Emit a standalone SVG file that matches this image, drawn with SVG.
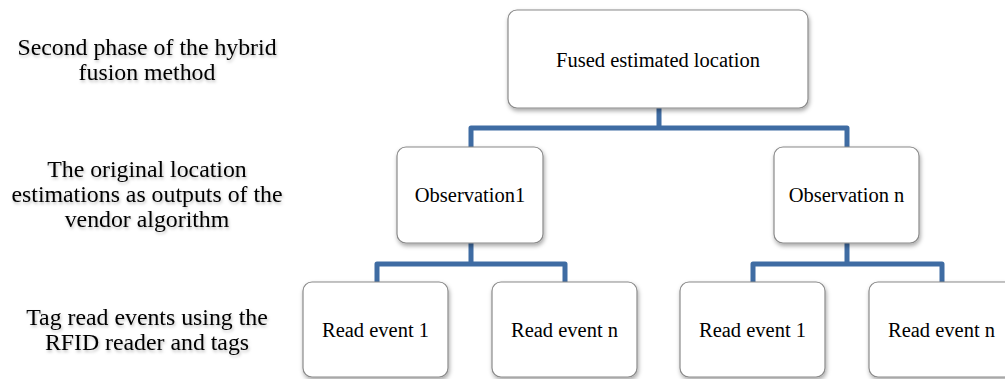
<svg xmlns="http://www.w3.org/2000/svg" width="1005" height="379" viewBox="0 0 1005 379">
  <defs>
    <filter id="shadow" x="-10%" y="-10%" width="130%" height="140%">
      <feDropShadow dx="1" dy="2.5" stdDeviation="2" flood-color="#000" flood-opacity="0.35"/>
    </filter>
    <filter id="tshadow" x="-5%" y="-20%" width="110%" height="160%">
      <feDropShadow dx="1" dy="2" stdDeviation="1.5" flood-color="#000" flood-opacity="0.25"/>
    </filter>
  </defs>
  <style>
    .box { fill: #ffffff; stroke: #8a8a8a; stroke-width: 1.2; filter: url(#shadow); }
    .btxt { font-family: "Liberation Serif", "Times New Roman", serif; font-size: 20.5px; fill: #000; text-anchor: middle; }
    .ltxt { font-family: "Liberation Serif", "Times New Roman", serif; font-size: 23.8px; fill: #000; text-anchor: middle; filter: url(#tshadow); }
    .conn { fill: none; stroke: #3f6ca3; stroke-width: 5; stroke-linejoin: round; }
  </style>
  <rect width="1005" height="379" fill="#ffffff"/>

  <g id="labels">
    <text class="ltxt" x="147" y="55">Second phase of the hybrid</text>
    <text class="ltxt" x="147" y="80">fusion method</text>
    <text class="ltxt" x="147" y="177">The original location</text>
    <text class="ltxt" x="147" y="202">estimations as outputs of the</text>
    <text class="ltxt" x="147" y="227">vendor algorithm</text>
    <text class="ltxt" x="147" y="325">Tag read events using the</text>
    <text class="ltxt" x="147" y="350">RFID reader and tags</text>
  </g>

  <g id="connectors">
    <path class="conn" d="M659,108 V128 M471,147 V128 H847 V147"/>
    <path class="conn" d="M471,243 V264 M377,282 V264 H565 V282"/>
    <path class="conn" d="M847,243 V264 M753,282 V264 H942 V282"/>
  </g>

  <g id="fused">
    <rect class="box" x="508" y="10" width="300" height="98" rx="9"/>
    <text class="btxt" x="658" y="67">Fused estimated location</text>
  </g>
  <g id="obs1">
    <rect class="box" x="397" y="147" width="146" height="96" rx="9"/>
    <text class="btxt" x="470" y="202">Observation1</text>
  </g>
  <g id="obsn">
    <rect class="box" x="774" y="147" width="145" height="96" rx="9"/>
    <text class="btxt" x="846.5" y="202">Observation n</text>
  </g>
  <g id="read1a">
    <rect class="box" x="303" y="282" width="145" height="95" rx="9"/>
    <text class="btxt" x="375.5" y="337">Read event 1</text>
  </g>
  <g id="readna">
    <rect class="box" x="492" y="282" width="145" height="95" rx="9"/>
    <text class="btxt" x="564.5" y="337">Read event n</text>
  </g>
  <g id="read1b">
    <rect class="box" x="680" y="282" width="145" height="95" rx="9"/>
    <text class="btxt" x="752.5" y="337">Read event 1</text>
  </g>
  <g id="readnb">
    <rect class="box" x="869" y="282" width="145" height="95" rx="9"/>
    <text class="btxt" x="941.5" y="337">Read event n</text>
  </g>
</svg>
